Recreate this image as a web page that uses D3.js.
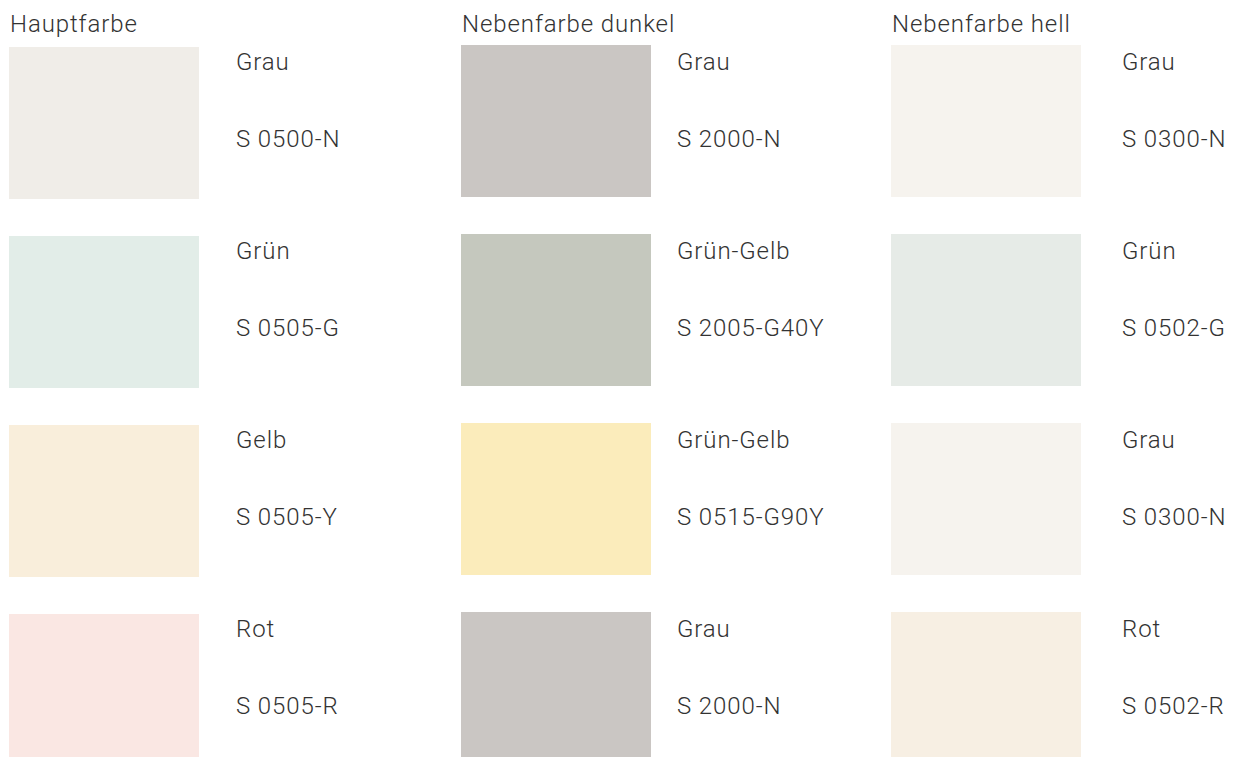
<!DOCTYPE html>
<html>
<head>
<meta charset="utf-8">
<script src="https://cdn.jsdelivr.net/npm/d3@7"></script>
<style>
  body { margin: 0; background: #fff; }
  text { font-family: Roboto, "Liberation Sans", sans-serif; font-weight: 300; fill: #333; letter-spacing: 0.9px; }
</style>
</head>
<body>
<svg id="chart" width="1243" height="757"></svg>
<script>
// column headings
const groups = ["Hauptfarbe", "Nebenfarbe dunkel", "Nebenfarbe hell"]
// colour names per column
const names = [
  ["Grau", "Grün", "Gelb", "Rot"],
  ["Grau", "Grün-Gelb", "Grün-Gelb", "Grau"],
  ["Grau", "Grün", "Grau", "Rot"]
]
// NCS codes per column
const codes = [
  ["S 0500-N", "S 0505-G", "S 0505-Y", "S 0505-R"],
  ["S 2000-N", "S 2005-G40Y", "S 0515-G90Y", "S 2000-N"],
  ["S 0300-N", "S 0502-G", "S 0300-N", "S 0502-R"]
]
// swatch fills
const fills = [
  ["#f0ede8", "#e2ede8", "#f9eedb", "#fae7e3"],
  ["#cac6c3", "#c5c8be", "#fbecbb", "#cac6c3"],
  ["#f6f3ee", "#e6ebe7", "#f6f3ee", "#f7efe3"]
]

let svg = d3.select("#chart")

//column left edges
let x = d3.scaleOrdinal().domain(groups).range([9, 461, 891])
//row tops
let y = d3.scaleLinear().domain([0, 1]).range([45, 234])
//first column sits a touch lower
let yOff = d3.scaleOrdinal().domain(groups).range([2, 0, 0])

const SW = 190, SH = 152, FS = 24

let cells = groups.flatMap((g, c) => names[c].map((n, r) => {
  return { g, r, name: n, code: codes[c][r], fill: fills[c][r] }
}))

//headings
svg.selectAll("text.head")
  .data(groups).enter().append("text")
  .attr("class", "head")
  .attr("x", d => x(d) + 1)
  .attr("y", 32)
  .attr("font-size", FS)
  .text(d => d)

let cell = svg.selectAll("g.cell")
  .data(cells).enter().append("g")
  .attr("class", "cell")
  .attr("transform", d => `translate(${x(d.g)},${y(d.r) + yOff(d.g)})`)

cell.append("rect")
  .attr("width", SW)
  .attr("height", SH)
  .attr("fill", d => d.fill)

//label column is offset differently per column
let lx = d3.scaleOrdinal().domain(groups).range([227, 216, 231])

cell.append("text")
  .attr("x", d => lx(d.g))
  .attr("y", d => 25 - yOff(d.g))
  .attr("font-size", FS)
  .text(d => d.name)

cell.append("text")
  .attr("x", d => lx(d.g))
  .attr("y", d => 102 - yOff(d.g))
  .attr("font-size", FS)
  .text(d => d.code)
</script>
</body>
</html>
